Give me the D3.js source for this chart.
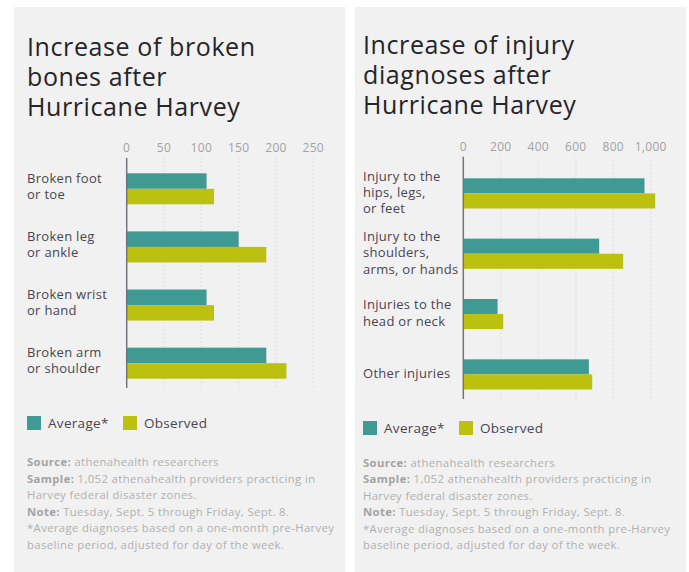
<!DOCTYPE html>
<html>
<head>
<meta charset="utf-8">
<script src="https://cdn.jsdelivr.net/npm/d3@7"></script>
<style>
  body { margin: 0; background: #fff; }
  svg text { font-family: "Open Sans", "Noto Sans", sans-serif; }
</style>
</head>
<body>
<svg id="chart" width="689" height="572"></svg>
<script>
// left chart data
var boneCategories = ["Broken foot\nor toe", "Broken leg\nor ankle", "Broken wrist\nor hand", "Broken arm\nor shoulder"];
var boneAverage = [107, 150, 107, 187];
var boneObserved = [117, 187, 117, 214];
var boneTicks = [0, 50, 100, 150, 200, 250];

// right chart data
var injuryCategories = ["Injury to the\nhips, legs,\nor feet", "Injury to the\nshoulders,\narms, or hands", "Injuries to the\nhead or neck", "Other injuries"];
var injuryAverage = [967, 725, 183, 670];
var injuryObserved = [1024, 853, 213, 688];
var injuryTicks = [0, 200, 400, 600, 800, 1000];

var seriesNames = ["Average*", "Observed"];
var seriesColors = ["#3e9a93", "#bcc110"];

var footerLines = [
  ["Source:", " athenahealth researchers"],
  ["Sample:", " 1,052 athenahealth providers practicing in"],
  ["", "Harvey federal disaster zones."],
  ["Note:", " Tuesday, Sept. 5 through Friday, Sept. 8."],
  ["", "*Average diagnoses based on a one-month pre-Harvey"],
  ["", "baseline period, adjusted for day of the week."]
];

var svg = d3.select('#chart');

function drawPanel(opt) {
  var g = svg.append('g');
  g.append('rect')
    .attr('x', opt.px).attr('y', 7)
    .attr('width', 331).attr('height', 566)
    .attr('fill', '#f1f1f1');

  // title
  var title = g.append('text')
    .attr('x', opt.tx).attr('y', opt.titleY)
    .attr('fill', '#26242a')
    .style('font-size', '25px')
    .style('letter-spacing', '0.6px');
  opt.title.forEach(function(t, i) {
    title.append('tspan').attr('x', opt.tx).attr('dy', i === 0 ? 0 : 30).text(t);
  });

  var x = d3.scaleLinear().domain(opt.domain).range(opt.xRange);
  var y = d3.scaleBand().domain(d3.range(opt.cats.length)).range(opt.yRange).paddingInner(opt.pad);
  var ys = d3.scaleBand().domain([0, 1]).range([0, y.bandwidth()]);

  // grid lines
  g.selectAll('.grid').data(opt.ticks.slice(1)).enter().append('line')
    .attr('x1', function(d) { return x(d); }).attr('x2', function(d) { return x(d); })
    .attr('y1', opt.axisTop).attr('y2', opt.axisBottom)
    .attr('stroke', '#cfcfcf').attr('stroke-width', 1)
    .attr('stroke-dasharray', '1,3');

  // tick labels
  var fmt = d3.format(',');
  g.selectAll('.tick').data(opt.ticks).enter().append('text')
    .attr('x', function(d) { return x(d); })
    .attr('y', opt.tickY)
    .attr('text-anchor', 'middle')
    .attr('fill', '#a2a2a2')
    .style('font-size', '12px')
    .style('letter-spacing', '0.3px')
    .text(function(d) { return fmt(d); });

  // bars
  var series = [opt.avg, opt.obs];
  series.forEach(function(vals, s) {
    g.selectAll('.bar' + s).data(vals).enter().append('rect')
      .attr('x', x(0))
      .attr('y', function(d, i) { return y(i) + ys(s); })
      .attr('width', function(d) { return x(d) - x(0); })
      .attr('height', ys.bandwidth())
      .attr('fill', seriesColors[s]);
  });

  // axis line
  g.append('line')
    .attr('x1', x(0)).attr('x2', x(0))
    .attr('y1', opt.axisTop).attr('y2', opt.axisBottom)
    .attr('stroke', '#77737a').attr('stroke-width', 1.5);

  // category labels
  opt.cats.forEach(function(c, i) {
    var lines = c.split('\n');
    var cy = y(i) + y.bandwidth() / 2 + opt.labelShift;
    var lh = opt.lineH;
    var t = g.append('text')
      .attr('x', opt.tx)
      .attr('y', cy - (lines.length - 1) * lh / 2)
      .attr('fill', '#4a4452')
      .style('font-size', '13px')
      .style('letter-spacing', '0.3px');
    lines.forEach(function(l, k) {
      t.append('tspan').attr('x', opt.tx).attr('dy', k === 0 ? '0.35em' : lh).text(l);
    });
  });

  // legend
  var lg = g.append('g').attr('transform', 'translate(' + opt.tx + ',' + opt.legendY + ')');
  var legendX = [0, opt.legendGap];
  seriesNames.forEach(function(n, s) {
    lg.append('rect').attr('x', legendX[s]).attr('y', -7)
      .attr('width', 14).attr('height', 14).attr('fill', seriesColors[s]);
    lg.append('text').attr('x', legendX[s] + 21).attr('y', 0).attr('dy', '0.35em')
      .attr('fill', '#4a4452').style('font-size', '13.5px')
      .style('letter-spacing', '0.3px').text(n);
  });

  // footer
  var ft = g.append('text').attr('x', opt.tx).attr('y', opt.footY)
    .style('font-size', '11.3px')
    .style('letter-spacing', '0.38px');
  footerLines.forEach(function(l, i) {
    var line = ft.append('tspan').attr('x', opt.tx).attr('dy', i === 0 ? 0 : 16.5);
    if (l[0]) line.append('tspan').attr('font-weight', 'bold').attr('fill', '#a3a3a3').text(l[0]);
    line.append('tspan').attr('fill', '#b0b0b0').text(l[1]);
  });
}

drawPanel({
  px: 14, tx: 27, titleY: 56,
  title: ["Increase of broken", "bones after", "Hurricane Harvey"],
  cats: boneCategories, avg: boneAverage, obs: boneObserved, ticks: boneTicks,
  domain: [0, 250], xRange: [126.7, 313.3],
  yRange: [173.3, 378.7], pad: 0.466,
  axisTop: 158, axisBottom: 388, tickY: 151.5,
  labelShift: -2.5, lineH: 16,
  legendY: 423, legendGap: 96, footY: 466
});

drawPanel({
  px: 355, tx: 363, titleY: 54,
  title: ["Increase of injury", "diagnoses after", "Hurricane Harvey"],
  cats: injuryCategories, avg: injuryAverage, obs: injuryObserved, ticks: injuryTicks,
  domain: [0, 1000], xRange: [463.3, 650.7],
  yRange: [178.3, 389.5], pad: 0.5,
  axisTop: 156.7, axisBottom: 399, tickY: 150.5,
  labelShift: -1, lineH: 16.3,
  legendY: 428, legendGap: 96, footY: 466.5
});
</script>
</body>
</html>
